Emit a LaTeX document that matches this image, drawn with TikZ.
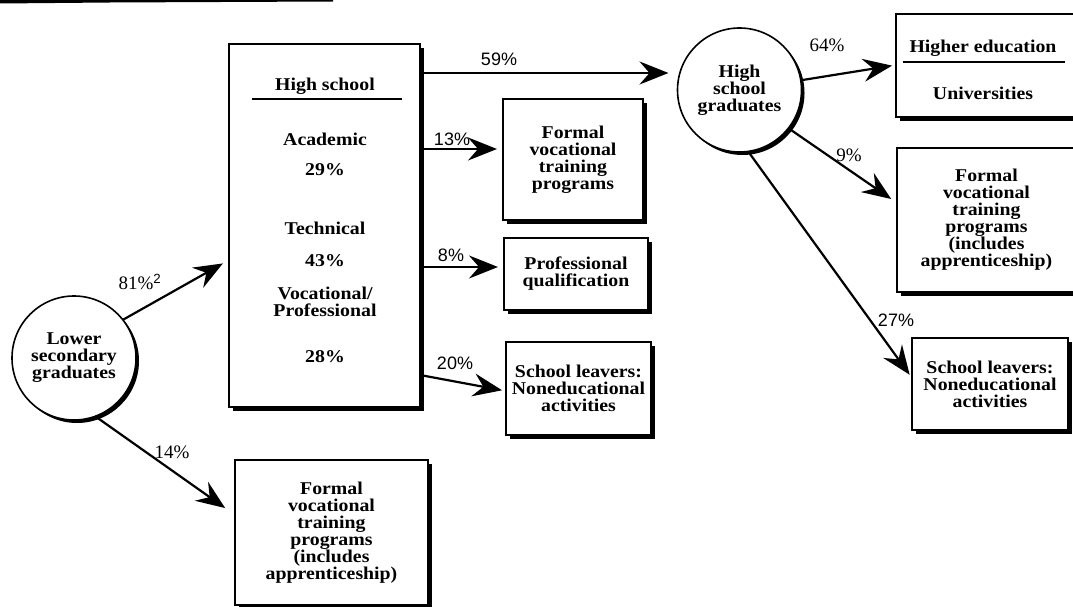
\documentclass[tikz,border=0pt]{standalone}
\usepackage{fontspec}
\setmainfont{Liberation Serif}
\newfontfamily\wideserif[FakeStretch=1.1]{Liberation Serif}
\newfontfamily\labelsans{Liberation Sans}
\usetikzlibrary{arrows.meta,shadows}

\begin{document}
\begin{tikzpicture}[x=1pt,y=-1pt,
  every node/.style={inner sep=0pt,outer sep=0pt},
  boxfont/.style={font=\wideserif\bfseries\fontsize{18}{17}\selectfont},
  frame/.style={rectangle,draw,line width=1.6pt,fill=white,
    drop shadow={shadow xshift=4pt,shadow yshift=-4pt,fill=black,opacity=1},
    boxfont,align=center},
  disc/.style={circle,draw,line width=1.6pt,fill=white,minimum size=124pt,
    drop shadow={shadow xshift=3pt,shadow yshift=-3pt,fill=black,opacity=1},
    boxfont,align=center},
  entry/.style={boxfont,align=center},
  conn/.style={line width=2.2pt,-{Stealth[length=29pt,width=23pt,inset=10pt]}},
  pctserif/.style={font=\fontsize{19}{20}\selectfont},
  pctsans/.style={font=\labelsans\fontsize{18}{20}\selectfont},
  rule/.style={line width=1.2pt}
]
\useasboundingbox (0,0) rectangle (1073,607);
\clip (0,0) rectangle (1073,607);

% heavy rule along the top edge
\fill (0,0) -- (333,0) -- (333,1.5) -- (110,2.5) -- (0,3.5) -- cycle;

% ---- left column ----
\node[disc] (lsg) at (74,358) {Lower\\secondary\\graduates};

\node[frame,minimum width=191pt,minimum height=363pt] (hs) at (324.5,225.5) {};
\node[entry] (hstitle) at (325,86) {High school};
\draw[rule] (252,99) -- (402,99);
\node[entry] (acad) at (325,139) {Academic};
\node[entry] (acadp) at (325,170) {29\%};
\node[entry] (tech) at (325,228) {Technical};
\node[entry] (techp) at (325,261) {43\%};
\node[entry] (voc) at (325,302) {Vocational/\\Professional};
\node[entry] (vocp) at (325,357) {28\%};

\node[frame,minimum width=193pt,minimum height=145pt] (bf) at (331.5,532.5)
  {Formal\\vocational\\training\\programs\\(includes\\apprenticeship)};

% ---- middle column ----
\node[frame,minimum width=140pt,minimum height=121pt] (mf) at (573,159.5)
  {Formal\\vocational\\training\\programs};
\node[frame,minimum width=144pt,minimum height=72pt] (pq) at (576,274)
  {Professional\\qualification};
\node[frame,minimum width=145pt,minimum height=93pt] (ml) at (578.5,388.5)
  {School leavers:\\Noneducational\\activities};

% ---- right column ----
\node[disc] (grad) at (739.5,90) {High\\school\\graduates};

\node[frame,minimum width=180pt,minimum height=103pt] (he) at (986,65.5) {};
\node[entry] (hetitle) at (983,48) {Higher education};
\draw[rule] (903,62) -- (1065,62);
\node[entry] (univ) at (983,93) {Universities};

\node[frame,minimum width=179pt,minimum height=144pt] (rf) at (986.5,220)
  {Formal\\vocational\\training\\programs\\(includes\\apprenticeship)};
\node[frame,minimum width=156pt,minimum height=92pt] (rl) at (990,384)
  {School leavers:\\Noneducational\\activities};

% ---- flows ----
\draw[conn,shorten >=7pt] (lsg.38) -- (hs.west |- 0,260);
\node[pctserif] (p81) at (140,282) {81\%\textsuperscript{\labelsans 2}};
\draw[conn,shorten >=12pt] (lsg.-70) -- (bf.west |- 0,515);
\node[pctserif] (p14) at (172,452) {14\%};

\draw[conn,shorten >=9pt] (hs.east |- 0,73) -- (grad.west |- 0,73);
\node[pctsans] (p59) at (499,59) {59\%};
\draw[conn,shorten >=6pt] (hs.east |- 0,149) -- (mf.west |- 0,149);
\node[pctsans] (p13) at (452,139) {13\%};
\draw[conn,shorten >=6pt] (hs.east |- 0,267) -- (pq.west |- 0,267);
\node[pctsans] (p8) at (451,255) {8\%};
\draw[conn,shorten >=4pt] (hs.east |- 0,375) -- (ml.west |- 0,391);
\node[pctsans] (p20) at (455,363) {20\%};

\draw[conn,shorten >=4pt] (grad.9) -- (he.west |- 0,65);
\node[pctserif] (p64) at (827,45) {64\%};
\draw[conn,shorten >=7pt] (grad.-38) -- (rf.west |- 0,203);
\node[pctserif] (p9) at (849,155) {9\%};
\draw[conn,shorten >=4pt] (grad.-82) -- (rl.west |- 0,378);
\node[pctsans] (p27) at (896,320) {27\%};
\end{tikzpicture}
\end{document}
